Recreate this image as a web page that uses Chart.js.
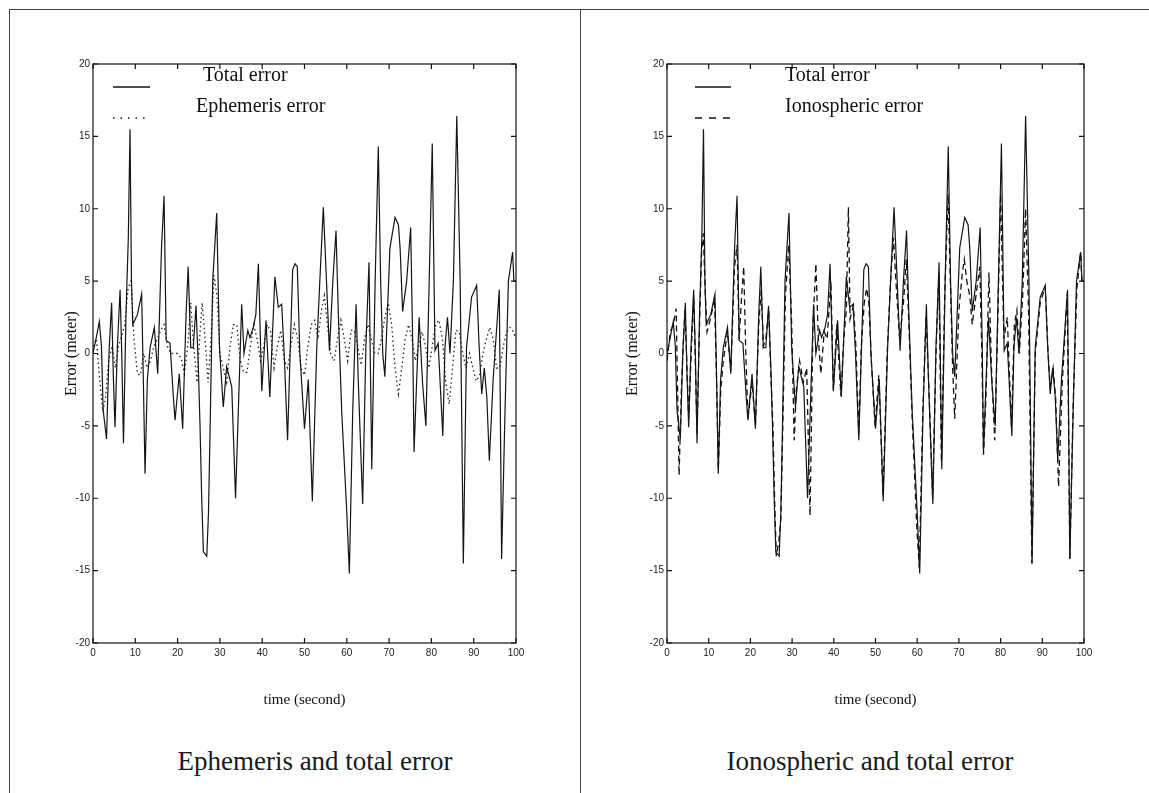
<!DOCTYPE html>
<html>
<head>
<meta charset="utf-8">
<script src="https://cdn.jsdelivr.net/npm/chart.js@4.4.0/dist/chart.umd.min.js"></script>
<style>
body { margin: 0; background: #fff; width: 1149px; height: 793px; overflow: hidden; position: relative; font-family: "Liberation Serif", serif; }
.frame { position: absolute; left: 9px; top: 9px; width: 1145px; height: 800px; border-left: 1.5px solid #444; border-top: 1.5px solid #444; }
.divider { position: absolute; left: 580px; top: 9px; height: 800px; border-left: 1.5px solid #444; }
canvas { position: absolute; }
.caption { position: absolute; top: 746px; width: 500px; text-align: center; font-size: 27px; color: #1a1a1a; }
</style>
</head>
<body>
<div class="frame"></div>
<div class="divider"></div>
<canvas id="ephChart" width="560" height="720" style="left:10px;top:10px"></canvas>
<canvas id="ionoChart" width="560" height="720" style="left:586px;top:10px"></canvas>
<div class="caption" style="left:65px">Ephemeris and total error</div>
<div class="caption" style="left:620px">Ionospheric and total error</div>
<script>
// tick labels
var xTicks = [0, 10, 20, 30, 40, 50, 60, 70, 80, 90, 100];
var yTicks = [-20, -15, -10, -5, 0, 5, 10, 15, 20];

// total error (same curve in both plots)
var totalTime = [0, 0.7, 1.5, 2, 2.4, 3.2, 3.8, 4.4, 4.8, 5.2, 5.75, 6.4, 6.8, 7.2, 7.8, 8.35, 8.75, 9.1, 9.4, 10.5,
  11.5, 11.9, 12.3, 12.85, 13.5, 14.5, 15.3, 16.2, 16.8, 17.3, 18.2, 19, 19.4, 20.4, 21.2, 22, 22.5, 23.1, 23.7, 24.35,
  24.9, 25.3, 25.7, 26.1, 26.9, 27.3, 27.7, 28.3, 29.25, 29.9, 30.8, 31.6, 32.8, 33.7, 35.15, 35.7, 36.6, 37.1, 37.9, 38.5,
  39.1, 39.9, 40.9, 41.8, 43, 43.8, 44.6, 45.2, 46, 46.6, 47.2, 47.75, 48.3, 48.9, 50, 50.9, 51.85, 52.9, 53.7, 54.45,
  55.2, 55.9, 56.7, 57.45, 58, 58.8, 60, 60.6, 61.4, 62.2, 62.7, 63.75, 64.5, 65.25, 65.9, 66.7, 67.45, 68, 68.5, 69,
  70.2, 71.4, 72.2, 72.6, 73.2, 74.15, 75.1, 75.6, 75.9, 76.5, 77.1, 77.9, 78.7, 79.3, 80.2, 80.85, 81.6, 82.7, 83.2, 83.8,
  84.4, 85.2, 86, 86.8, 87.55, 88.3, 89.5, 90.7, 91.3, 91.9, 92.5, 93.1, 93.7, 94.6, 96.05, 96.6, 97.4, 98.2, 99.2, 99.5, 100];
var totalError = [0, 1, 2.2, 0.5, -3.9, -5.9, 0.2, 3.5, -1.5, -5.1, 0.4, 4.4, 0, -6.2, 2.7, 8, 15.5, 5, 2, 2.7,
  4.1, -1.8, -8.3, -1.8, 0.4, 1.8, -1.4, 7.3, 10.9, 0.9, 0.7, -3, -4.6, -1.4, -5.2, 2.7, 6, 0.4, 0.4, 3.3,
  -0.9, -5, -10, -13.7, -14, -11, -5, 5, 9.7, 0.4, -3.7, -0.9, -2.3, -10, 3.4, 0, 1.6, 1.1, 1.8, 2.7,
  6.2, -2.6, 2.3, -3, 5.3, 3.2, 3.4, 0, -6, 0, 5.8, 6.2, 6, 0, -5.2, -1.8, -10.2, 0.4, 5.5, 10.1,
  5, 0.2, 5, 8.5, 2.7, -4, -11, -15.2, -4, 3.4, -1.8, -10.4, 0.4, 6.3, -8, 5, 14.3, 5, 0, -1.6,
  7.3, 9.4, 8.9, 7.3, 2.9, 5, 8.7, 0.4, -6.8, -2, 2.5, -2, -5, 2.7, 14.5, 0.2, 0.7, -5.7, 0.4, 2.5,
  0, 5, 16.4, 5, -14.5, 0.4, 3.9, 4.7, 0.4, -2.8, -1, -3, -7.4, -1.8, 4.4, -14.2, -4, 5, 7, 5, 5];

// ephemeris error
var ephTime = [0, 0.8, 1.5, 2.3, 3, 3.7, 4.5, 5.3, 6, 6.8, 7.5, 8.3, 9, 9.7, 10.5, 11.2, 12, 12.8, 13.6, 14.4,
  15.2, 16, 16.8, 17.6, 18.4, 19.2, 20, 20.8, 21.6, 22.4, 23.1, 23.8, 24.6, 25.2, 25.8, 26.5, 27.2, 27.9, 28.6, 29.3,
  30, 30.8, 31.6, 32.4, 33.2, 34, 34.8, 35.6, 36.4, 37.2, 38, 38.8, 39.6, 40.4, 41.2, 42, 42.8, 43.6, 44.4, 45.2,
  46, 46.8, 47.6, 48.4, 49.2, 50, 50.8, 51.6, 52.4, 53.2, 54, 54.7, 55.4, 56.2, 57, 57.8, 58.6, 59.4, 60.2, 61,
  61.8, 62.6, 63.4, 64.2, 65, 65.8, 66.6, 67.4, 68.2, 69, 69.8, 70.6, 71.4, 72.2, 73, 73.8, 74.6, 75.4, 76.2, 77,
  77.8, 78.6, 79.4, 80.2, 81, 81.8, 82.6, 83.4, 84.2, 85, 85.8, 86.6, 87.4, 88.2, 89, 89.8, 90.6, 91.4, 92.2, 93,
  93.8, 94.6, 95.4, 96.2, 97, 97.8, 98.6, 99.4, 100];
var ephError = [0.5, 1, -1.5, -4, -3, -0.5, 0.5, -1, 0.5, 1.2, 2, 4.5, 5, 1, -1.4, -1.5, 0, -1, -0.5, 0.5,
  1, 1.6, 2, 0.5, 0, 0, 0, -0.3, -1.4, 0.5, 3.5, 0.5, -2, 1, 3.5, 1, -2, 1, 5.4, 4,
  0, -1, -2, 0.5, 2, 2, -0.5, -1.3, -1.3, 0.5, 2, 1, -0.5, 0.5, 2, 1.5, -1, 0.5, 1.6, -0.5,
  -1, 0.5, 2, 1, -1, -1.5, 0.5, 2, 2.3, 1, 3, 4, 2, 0, -0.5, 1, 2.3, 1, -0.5, 1.6,
  1.6, 0.5, -0.8, 1, 2, 1, 0, 0, 1, 2.5, 3.5, 2, -1, -2.8, -1, 1, 2, 1, -0.5, 0.5,
  1.5, 0.5, -1, 0.5, 2, 2.3, 1, -2, -3.5, -1, 1.6, 1.5, 0, -1, 0, -1, -1.9, -1.5, 0, 1,
  1.8, 1, -1, -1, 0.5, 1.5, 1.8, 1.5, 1];

// ionospheric error
var ionoTime = [0, 0.8, 1.5, 2.2, 2.9, 3.5, 4.3, 4.8, 5.2, 5.8, 6.4, 7.2, 7.8, 8.3, 8.7, 9.2, 9.6, 10.5, 11.4, 11.9,
  12.3, 12.9, 13.5, 14.5, 15.3, 16.2, 16.8, 17.3, 17.9, 18.4, 18.9, 19.4, 20.4, 21.2, 22, 22.6, 23.1, 23.7, 24.4, 24.9,
  25.4, 25.8, 26.2, 26.8, 27.3, 27.7, 28.4, 29.2, 29.9, 30.5, 31, 31.8, 32.7, 33.5, 34.3, 35, 35.7, 36.3, 36.9, 37.7,
  38.4, 39.3, 39.9, 40.7, 41.7, 42.4, 43, 43.5, 43.9, 44.7, 45.3, 46, 46.6, 47.3, 47.9, 48.4, 49, 49.9, 50.8, 51.8,
  52.8, 53.6, 54.3, 55.1, 55.8, 56.7, 57.4, 58, 58.8, 59.9, 60.5, 61.3, 62.1, 62.7, 63.7, 64.5, 65.2, 65.8, 66.6, 67.4,
  68, 68.5, 69, 70, 70.8, 71.3, 71.9, 72.6, 73.2, 74.1, 75, 75.5, 75.9, 76.5, 77.2, 77.8, 78.6, 79.3, 80, 80.8,
  81.6, 82.6, 83.3, 83.9, 84.5, 85.3, 86, 86.7, 87.5, 88.3, 89.5, 90.7, 91.4, 91.9, 92.6, 93.2, 93.9, 94.8, 96, 96.6,
  97.4, 98.3, 99.2, 99.5, 100];
var ionoError = [-0.5, 1.5, 2, 3.1, -8.4, -2, 3, -1, -4.5, 0, 4, -5.5, 2, 7, 8.3, 4, 1.5, 2.5, 3.8, -2,
  -8, -2.5, -0.5, 1.5, -1.2, 6, 7.5, 1, 4, 6, 0, -4.5, -2, -5, 2, 4.4, 0.5, 1, 3, -1.5,
  -5, -10, -14, -13, -11.5, -6, 4, 7.5, 2, -6, -2.5, -0.5, -2, -1, -11.2, 2, 6.2, 1, -1.4, 1.5,
  1, 5, -2.5, 2, -2.9, 1, 3, 10.1, 2.4, 3.3, 0.5, -5.5, 0.5, 3.5, 4.5, 3.5, -0.5, -5, -1.5, -9.8,
  0, 5, 8, 4, 1, 3.5, 6.5, 2, -4.5, -12, -14.8, -4.5, 2.5, -1.5, -10, 0, 5.5, -7.5, 4, 11,
  4.5, -1, -4.5, 3, 5.5, 6.5, 5, 4, 2, 4, 6, 0, -7, -3, 5.6, -1, -6, 2, 11, 1,
  2.5, -5, 2, 3, 0, 4, 10, 3, -14.5, 0, 3.5, 4.6, 0, -2.3, -1, -3, -9.2, -2, 4.2, -14.2,
  -3.5, 4.5, 7, 5, 5];

function points(ts, vs) {
  return ts.map(function (t, i) { return { x: t, y: vs[i] }; });
}

// box with inward ticks on all four sides
var boxPlugin = {
  id: 'box',
  afterDatasetsDraw: function (chart) {
    var ctx = chart.ctx, a = chart.chartArea, x = chart.scales.x, y = chart.scales.y;
    ctx.save();
    ctx.strokeStyle = '#111';
    ctx.lineWidth = 1.2;
    ctx.strokeRect(a.left, a.top, a.right - a.left, a.bottom - a.top);
    ctx.beginPath();
    x.ticks.forEach(function (t) {
      var px = x.getPixelForValue(t.value);
      ctx.moveTo(px, a.bottom); ctx.lineTo(px, a.bottom - 5);
      ctx.moveTo(px, a.top); ctx.lineTo(px, a.top + 5);
    });
    y.ticks.forEach(function (t) {
      var py = y.getPixelForValue(t.value);
      ctx.moveTo(a.left, py); ctx.lineTo(a.left + 5, py);
      ctx.moveTo(a.right, py); ctx.lineTo(a.right - 5, py);
    });
    ctx.stroke();
    ctx.restore();
  }
};

// legend drawn inside the axes, matlab style
var inLegend = {
  id: 'inLegend',
  afterDatasetsDraw: function (chart, args, opts) {
    var ctx = chart.ctx, a = chart.chartArea;
    chart.data.datasets.forEach(function (ds, i) {
      var rowY = a.top + opts.rowTop + i * opts.rowGap;
      ctx.save();
      ctx.strokeStyle = '#111';
      ctx.lineWidth = 1.5;
      ctx.setLineDash(opts.dashes[i]);
      ctx.beginPath();
      ctx.moveTo(a.left + opts.x0, rowY + opts.lineDy);
      ctx.lineTo(a.left + opts.x1, rowY + opts.lineDy);
      ctx.stroke();
      ctx.setLineDash([]);
      ctx.fillStyle = '#111';
      ctx.font = '20px "Liberation Serif"';
      ctx.textBaseline = 'middle';
      ctx.fillText(ds.label, a.left + opts.textX[i], rowY);
      ctx.restore();
    });
  }
};

function makeChart(id, second, yWidth, padRight, yTitlePad, legendText) {
  var ctx = document.getElementById(id).getContext('2d');
  return new Chart(ctx, {
    type: 'line',
    data: {
      datasets: [
        {
          label: 'Total error',
          data: points(totalTime, totalError),
          borderColor: '#151515',
          borderWidth: 1.2,
          pointRadius: 0,
          tension: 0
        },
        second
      ]
    },
    options: {
      responsive: false,
      animation: false,
      layout: { padding: { top: 54, right: padRight, bottom: 0, left: 0 } },
      plugins: {
        legend: { display: false },
        tooltip: { enabled: false },
        inLegend: legendText
      },
      scales: {
        x: {
          type: 'linear',
          min: 0, max: 100,
          afterBuildTicks: function (s) { s.ticks = xTicks.map(function (v) { return { value: v }; }); },
          afterFit: function (s) { s.height = 87; },
          grid: { display: false, drawTicks: false },
          border: { display: false },
          ticks: { padding: 4, color: '#222', font: { family: 'Liberation Sans', size: 10 } },
          title: { display: true, text: 'time (second)', color: '#111', padding: { top: 0, bottom: 21 },
            font: { family: 'Liberation Serif', size: 15 } }
        },
        y: {
          min: -20, max: 20,
          afterBuildTicks: function (s) { s.ticks = yTicks.map(function (v) { return { value: v }; }); },
          afterFit: function (s) { s.width = yWidth; },
          grid: { display: false, drawTicks: false },
          border: { display: false },
          ticks: { padding: 3, color: '#222', font: { family: 'Liberation Sans', size: 10 } },
          title: { display: true, text: 'Error (meter)', color: '#111', padding: { top: yTitlePad, bottom: 0 },
            font: { family: 'Liberation Serif', size: 16 } }
        }
      }
    },
    plugins: [boxPlugin, inLegend]
  });
}

makeChart('ephChart', {
  label: 'Ephemeris error',
  data: points(ephTime, ephError),
  borderColor: '#222',
  borderWidth: 1.3,
  borderDash: [1.5, 3],
  pointRadius: 0,
  tension: 0
}, 83, 54, 52, { rowTop: 12, rowGap: 31, lineDy: 11, x0: 20, x1: 57, textX: [110, 103], dashes: [[], [1.5, 6]] });

makeChart('ionoChart', {
  label: 'Ionospheric error',
  data: points(ionoTime, ionoError),
  borderColor: '#111',
  borderWidth: 1.3,
  borderDash: [6, 4],
  pointRadius: 0,
  tension: 0
}, 81, 62, 37, { rowTop: 12, rowGap: 31, lineDy: 11, x0: 28, x1: 64, textX: [118, 118], dashes: [[], [7, 7]] });
</script>
</body>
</html>
